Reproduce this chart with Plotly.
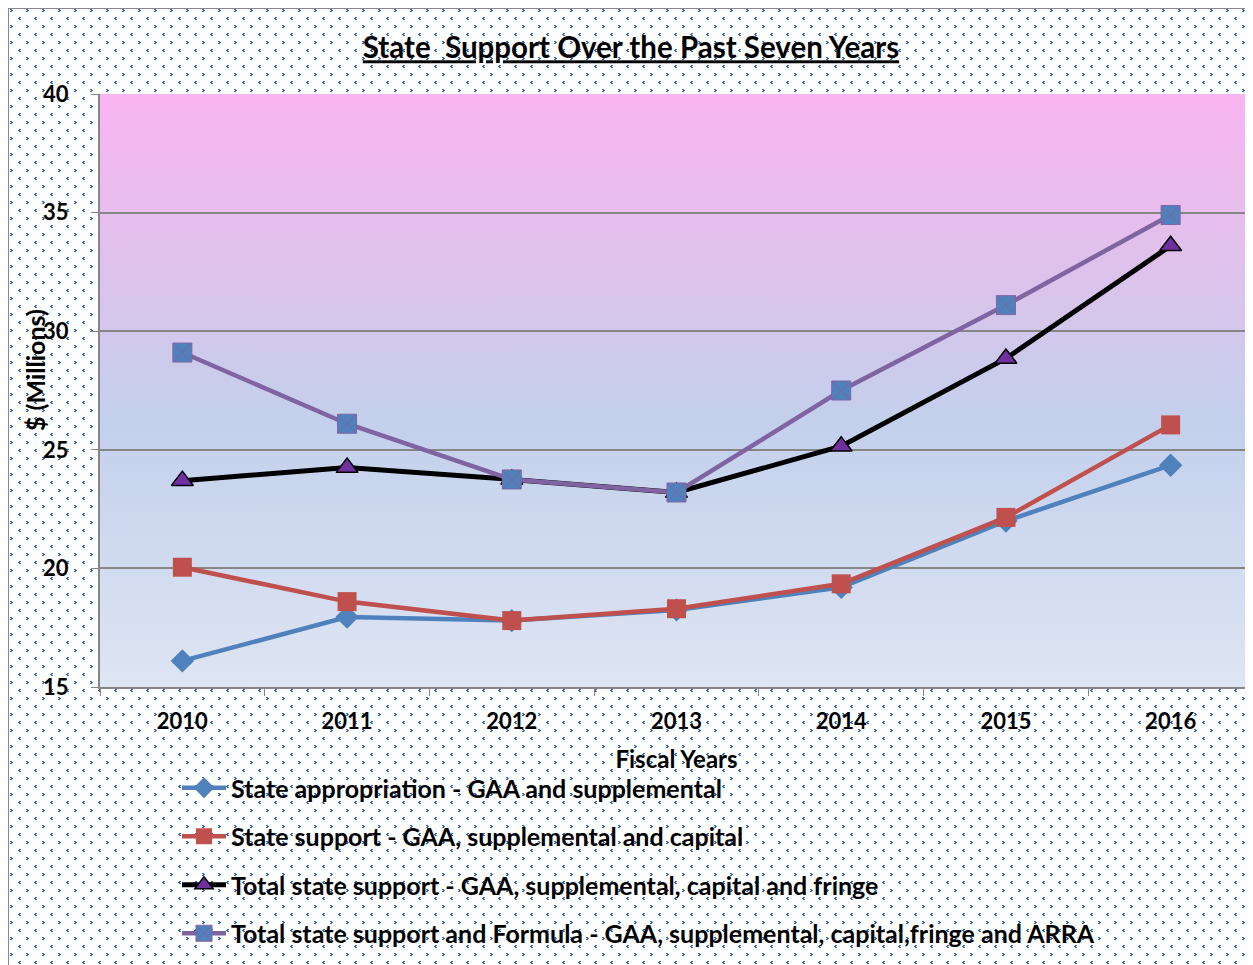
import base64
import plotly.graph_objects as go

years = ["2010", "2011", "2012", "2013", "2014", "2015", "2016"]
appropriation = [16.1, 17.95, 17.8, 18.25, 19.2, 22.0, 24.35]
state_support = [20.05, 18.6, 17.8, 18.3, 19.35, 22.15, 26.05]
total_support = [23.7, 24.25, 23.75, 23.2, 25.15, 28.85, 33.6]
total_formula = [29.1, 26.1, 23.75, 23.2, 27.5, 31.1, 34.9]

names = [
    "State appropriation - GAA and supplemental",
    "State support - GAA, supplemental and capital",
    "Total state support - GAA, supplemental, capital and fringe",
    "Total state support and Formula - GAA, supplemental, capital,fringe and ARRA",
]

# page has an 8px body margin, so the figure is a bit smaller than the window
W, H = 1245, 957
L, T, B = 92, 86, 278
pw = W - L
ph = H - T - B


def data_uri(svg):
    return "data:image/svg+xml;base64," + base64.b64encode(svg.encode()).decode()


c = "#2F68CC"
pattern_svg = f"""<svg xmlns='http://www.w3.org/2000/svg' width='{W}' height='{H}' shape-rendering='crispEdges'>
<defs><pattern id='p' width='16' height='16' patternUnits='userSpaceOnUse'>
<rect x='2' y='1' width='2' height='1' fill='{c}'/><rect x='3' y='2' width='2' height='1' fill='{c}'/><rect x='2' y='3' width='2' height='1' fill='{c}'/>
<rect x='11' y='9' width='2' height='1' fill='{c}'/><rect x='10' y='10' width='2' height='1' fill='{c}'/><rect x='11' y='11' width='2' height='1' fill='{c}'/>
</pattern></defs>
<rect x='0' y='0' width='{W}' height='{H}' fill='white'/>
<rect x='1' y='1' width='{W}' height='{H}' fill='url(#p)'/>
<rect x='0' y='0' width='{W + 10}' height='{H + 10}' fill='none' stroke='#8a8a8a' stroke-width='2'/>
</svg>"""

grad_svg = """<svg xmlns='http://www.w3.org/2000/svg' width='100' height='100' preserveAspectRatio='none'>
<defs><linearGradient id='g' x1='0' y1='0' x2='0' y2='1'>
<stop offset='0' stop-color='#F9B5F1'/>
<stop offset='0.3' stop-color='#DDC2EB'/>
<stop offset='0.55' stop-color='#C3D0EC'/>
<stop offset='1' stop-color='#DEE5F3'/>
</linearGradient></defs>
<rect width='100' height='100' fill='url(#g)'/>
</svg>"""

fig = go.Figure()

fig.add_trace(go.Scatter(
    x=years, y=appropriation, name=names[0], mode="lines+markers", legendgroup="a",
    line=dict(color="#4F81BD", width=4.5),
    marker=dict(symbol="diamond", size=18, color="#4F81BD"),
))
fig.add_trace(go.Scatter(
    x=years, y=state_support, name=names[1], mode="lines+markers", legendgroup="b",
    line=dict(color="#C0504D", width=4.5),
    marker=dict(symbol="square", size=19, color="#C0504D"),
))
fig.add_trace(go.Scatter(
    x=years, y=total_support, name=names[2], mode="lines+markers", legendgroup="c",
    line=dict(color="black", width=5),
    marker=dict(symbol="triangle-up", size=19, color="#7030A0", line=dict(color="black", width=1.5)),
))
fig.add_trace(go.Scatter(
    x=years, y=total_formula, name=names[3], mode="lines+markers", legendgroup="d",
    line=dict(color="#8064A2", width=4.5),
    marker=dict(symbol="square-x", size=19, color="#4F81BD", line=dict(color="#8064A2", width=1)),
))

fig.update_layout(
    width=W, height=H,
    margin=dict(l=L, r=0, t=T, b=B),
    paper_bgcolor="white",
    plot_bgcolor="rgba(0,0,0,0)",
    font=dict(family="Lato, Arial, sans-serif", color="black"),
    title=dict(
        text="State  Support Over the Past Seven Years",
        x=(631 - 100) / 1153, xref="paper", xanchor="center",
        y=1 - 40 / H, yanchor="middle",
        font=dict(size=29.5, weight="bold", lineposition="under"),
    ),
    images=[
        dict(source=data_uri(pattern_svg), xref="paper", yref="paper",
             x=-L / pw, y=1 + T / ph, sizex=W / pw, sizey=H / ph,
             sizing="stretch", layer="below"),
        dict(source=data_uri(grad_svg), xref="paper", yref="paper",
             x=0, y=1, sizex=1, sizey=1, sizing="stretch", layer="below"),
    ],
    annotations=[
        dict(text="$ (Millions)", textangle=-90, showarrow=False,
             xref="paper", yref="paper",
             x=(27 - L) / pw, y=1 - (362 - T) / ph,
             xanchor="center", yanchor="middle",
             font=dict(size=25, weight="bold")),
    ],
    xaxis=dict(
        type="category", range=[-0.5, 6.5],
        showline=True, linecolor="#868686", linewidth=2,
        ticks="outside", ticklen=7, tickcolor="#868686", tickson="boundaries",
        showgrid=False,
        tickfont=dict(size=22, weight="bold"),
        ticklabelstandoff=14,
        title=dict(text="Fiscal Years", font=dict(size=24, weight="bold"), standoff=18),
    ),
    yaxis=dict(
        range=[15, 40], dtick=5,
        showline=True, linecolor="#868686", linewidth=2,
        ticks="outside", ticklen=7, tickcolor="#868686",
        gridcolor="#868686", gridwidth=2,
        tickfont=dict(size=22, weight="bold"),
        ticklabelstandoff=18,
    ),
    legend=dict(
        x=(169 - L) / pw, xanchor="left",
        y=-(757 - (H - B)) / ph, yanchor="top",
        bgcolor="rgba(0,0,0,0)",
        font=dict(size=25, weight="bold"),
        itemwidth=44,
        tracegroupgap=13,
    ),
    showlegend=True,
)

fig.write_html("out.html")
